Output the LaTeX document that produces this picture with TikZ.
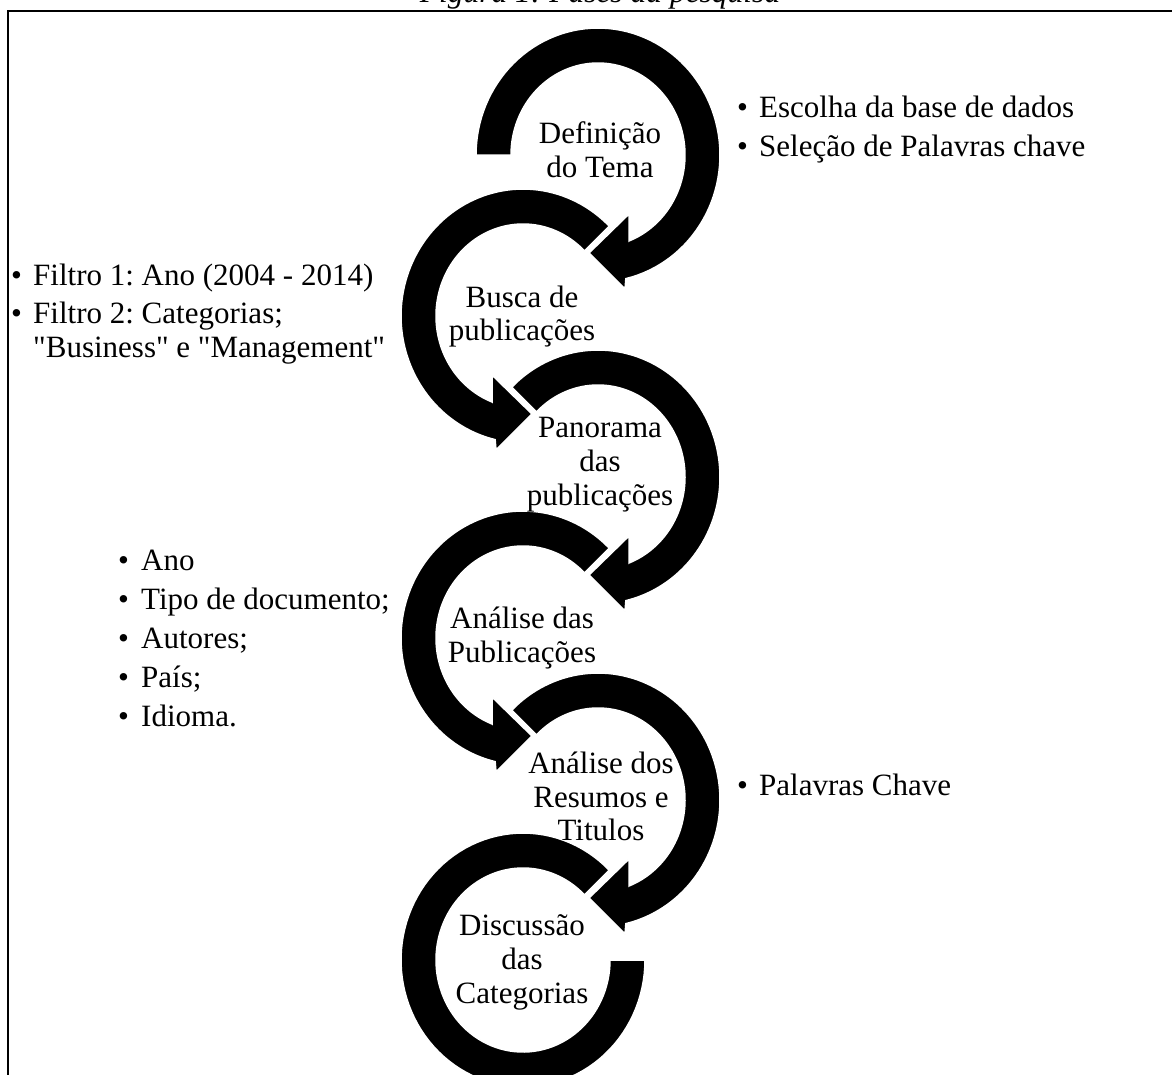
\documentclass[tikz,border=0pt]{standalone}
\usepackage{fontspec}
\setmainfont{Liberation Serif}[Ligatures=TeXOff]
\newcommand{\arrowbody}[1]{%
  \fill[arrowfill] plot[domain=#1:436.8, samples=90] ({122*cos(\x)},{127*sin(\x)})
    -- (27,134) -- (-9,98) -- (31,59) -- (31,86)
    -- plot[domain=429:#1, samples=90] ({87*cos(\x)},{92*sin(\x)}) -- cycle;}
\newcommand{\lastbody}{%
  \fill[arrowfill] plot[domain=225:540, samples=100] ({122*cos(\x)},{127*sin(\x)})
    -- plot[domain=540:225, samples=100] ({87*cos(\x)},{92*sin(\x)}) -- cycle;}
\begin{document}
\frenchspacing
\begin{tikzpicture}[x=1pt,y=-1pt,
  arrowfill/.style={fill=black, draw=white, line width=1.5pt},
  txt/.style={font=\fontsize{31}{34}\selectfont, inner sep=0pt},
  ctxt/.style={txt, align=center, anchor=base}]
\useasboundingbox (0,0) rectangle (1172,1074);
\clip (0,0) rectangle (1172,1074);
\fill[white] (0,0) rectangle (1172,1074);
% title and frame
\node[inner sep=0pt, anchor=base, font=\fontsize{31.5}{34}\selectfont\itshape] (title) at (600,2) {Figura 1: Fases da pesquisa};
\draw[line width=2pt] (8,1200) -- (8,11) -- (1300,11);
% circular arrows
\begin{scope}[shift={(598,155)}]\arrowbody{180}\end{scope}
\begin{scope}[shift={(523,316)}, xscale=-1]\arrowbody{225}\end{scope}
\begin{scope}[shift={(598,477)}]\arrowbody{225}\end{scope}
\begin{scope}[shift={(523,638)}, xscale=-1]\arrowbody{225}\end{scope}
\begin{scope}[shift={(598,800)}]\arrowbody{225}\end{scope}
\begin{scope}[shift={(523,960)}, xscale=-1]\lastbody\end{scope}
% circle texts
\node[ctxt] (t1a) at (600,143) {Definição};
\node[ctxt] (t1b) at (600,177) {do Tema};
\node[ctxt] (t2a) at (522,307) {Busca de};
\node[ctxt] (t2b) at (522,340) {publicações};
\node[ctxt] (t3a) at (600,437) {Panorama};
\node[ctxt] (t3b) at (600,471) {das};
\node[ctxt] (t3c) at (600,505) {publicações};
\node[ctxt] (t4a) at (522,628) {Análise das};
\node[ctxt] (t4b) at (522,662) {Publicações};
\node[ctxt] (t5a) at (601,773) {Análise dos};
\node[ctxt] (t5b) at (601,807) {Resumos e};
\node[ctxt] (t5c) at (601,840) {Titulos};
\node[ctxt] (t6a) at (522,935) {Discussão};
\node[ctxt] (t6b) at (522,969) {das};
\node[ctxt] (t6c) at (522,1003) {Categorias};
% bullet texts, top right
\node[txt, anchor=base west] (b1a) at (737,117) {•};
\node[txt, anchor=base west] (l1a) at (759,117) {Escolha da base de dados};
\node[txt, anchor=base west] (b1b) at (737,156) {•};
\node[txt, anchor=base west] (l1b) at (759,156) {Seleção de Palavras chave};
% left of circle 2
\node[txt, anchor=base west] (b2a) at (11,285) {•};
\node[txt, anchor=base west] (l2a) at (33,285) {Filtro 1: Ano (2004 - 2014)};
\node[txt, anchor=base west] (b2b) at (11,323) {•};
\node[txt, anchor=base west] (l2b) at (33,323) {Filtro 2: Categorias;};
\node[txt, anchor=base west] (l2c) at (33,357) {"Business" e "Management"};
% left of circle 4
\node[txt, anchor=base west] (b4a) at (118,570) {•};
\node[txt, anchor=base west] (l4a) at (141,570) {Ano};
\node[txt, anchor=base west] (b4b) at (118,609) {•};
\node[txt, anchor=base west] (l4b) at (141,609) {Tipo de documento;};
\node[txt, anchor=base west] (b4c) at (118,648) {•};
\node[txt, anchor=base west] (l4c) at (141,648) {Autores;};
\node[txt, anchor=base west] (b4d) at (118,687) {•};
\node[txt, anchor=base west] (l4d) at (141,687) {País;};
\node[txt, anchor=base west] (b4e) at (118,726) {•};
\node[txt, anchor=base west] (l4e) at (141,726) {Idioma.};
% right of circle 5
\node[txt, anchor=base west] (b5a) at (737,795) {•};
\node[txt, anchor=base west] (l5a) at (759,795) {Palavras Chave};
\end{tikzpicture}
\end{document}
